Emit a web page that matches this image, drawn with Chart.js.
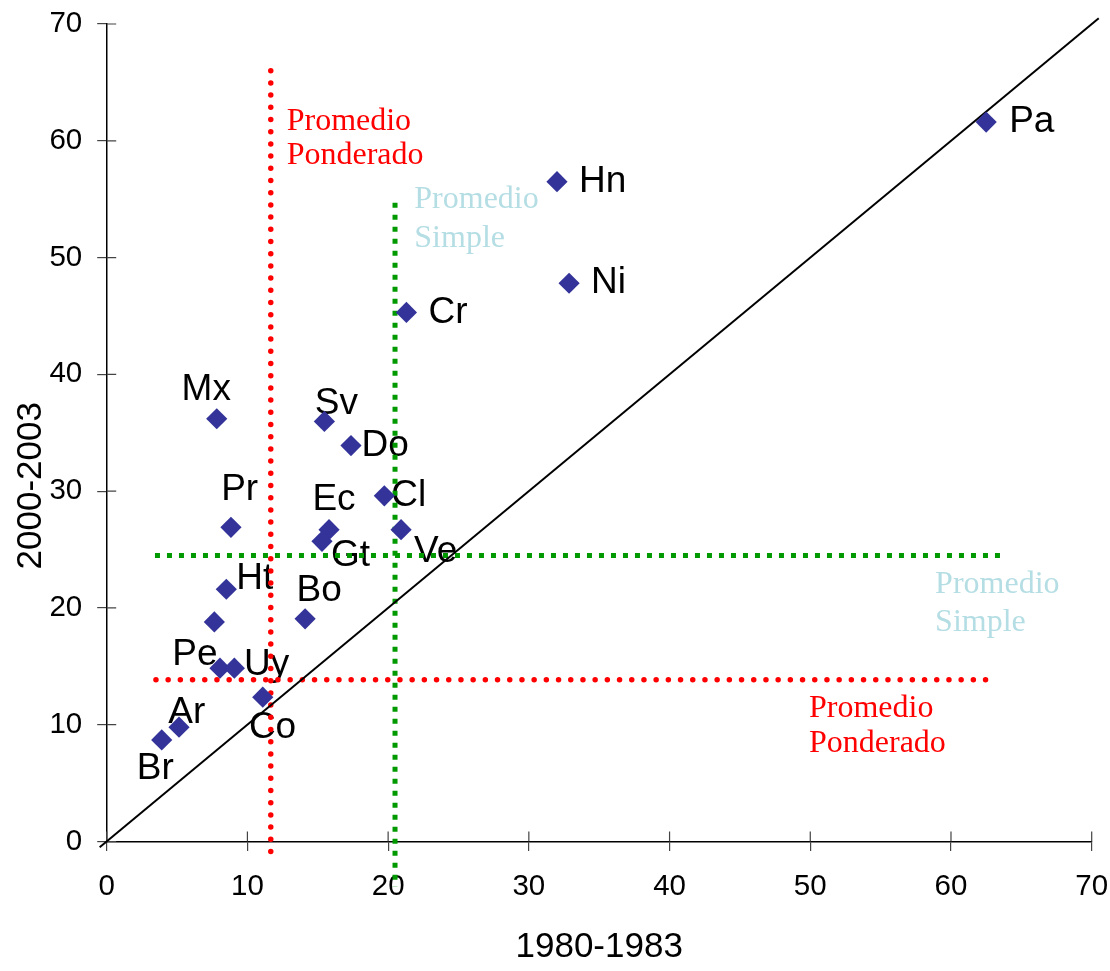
<!DOCTYPE html>
<html>
<head>
<meta charset="utf-8">
<script src="https://cdn.jsdelivr.net/npm/chart.js@4.4.0/dist/chart.umd.min.js"></script>
<style>
html, body { margin: 0; padding: 0; background: #fff; }
#wrap { width: 1110px; height: 971px; position: relative; }
</style>
</head>
<body>
<div id="wrap"><canvas id="chart"></canvas></div>
<script>
// países y valores (1980-1983 vs 2000-2003)
const countries = ['Pa', 'Hn', 'Ni', 'Cr', 'Mx', 'Sv', 'Do', 'Cl', 'Pr', 'Ec', 'Gt', 'Ve', 'Ht', '', 'Bo', 'Pe', 'Uy', 'Co', 'Ar', 'Br'];
const x1980 = [62.5, 32.0, 32.86, 21.3, 7.82, 15.47, 17.36, 19.73, 8.83, 15.8, 15.3, 20.92, 8.5, 7.65, 14.1, 8.05, 9.07, 11.09, 5.14, 3.91];
const y2000 = [61.6, 56.5, 47.8, 45.3, 36.2, 35.97, 33.9, 29.6, 26.9, 26.7, 25.7, 26.7, 21.6, 18.8, 19.07, 14.84, 14.84, 12.36, 9.79, 8.70];

// líneas de referencia
const diagX = [-0.5, 70.5];
const diagY = [-0.5, 70.5];
const ponderadoVX = [11.66, 11.66];
const ponderadoVY = [66.0, -0.9];
const ponderadoHX = [3.5, 62.6];
const ponderadoHY = [13.84, 13.84];
const simpleVX = [20.49, 20.49];
const simpleVY = [54.7, -3.9];
const simpleHX = [3.43, 63.5];
const simpleHY = [24.5, 24.5];

const axisTicks = [0, 10, 20, 30, 40, 50, 60, 70];

// desplazamiento de cada etiqueta respecto a su punto (px)
const labelOffsets = [
    [23, 0, 'left'], [22, 0, 'left'], [22, 0, 'left'], [22, 0, 'left'],
    [-10.5, -29, 'center'], [12, -18, 'center'], [10.5, 0, 'left'], [7, 0, 'left'],
    [8.7, -38, 'center'], [5, -29.5, 'center'], [9, 14.6, 'left'], [13, 21.7, 'left'],
    [10, -10.5, 'left'], [0, 0, 'left'], [14, -28, 'center'], [-25, -13.3, 'center'],
    [9.6, -3.8, 'left'], [9.8, 30.7, 'center'], [7.7, -14.6, 'center'], [-6.4, 29.3, 'center']
];

const notes = [
    { lines: ['Promedio', 'Ponderado'], color: '#FF0000', x: 12.79, y: 60.9, gap: 34 },
    { lines: ['Promedio', 'Simple'], color: '#B4DEE4', x: 21.86, y: 54.25, gap: 39 },
    { lines: ['Promedio', 'Simple'], color: '#B4DEE4', x: 58.87, y: 21.3, gap: 38.5 },
    { lines: ['Promedio', 'Ponderado'], color: '#FF0000', x: 49.91, y: 10.65, gap: 34.7 }
];

const sans = '"Liberation Sans", Arial, sans-serif';
const serif = '"Liberation Serif", "Times New Roman", serif';

function pairs(xs, ys)
{
    return xs.map((x, i) => ({ x: x, y: ys[i] }));
}

function refLine(xs, ys, color, width, dash, cap)
{
    return {
        data: pairs(xs, ys),
        showLine: true,
        borderColor: color,
        borderWidth: width,
        borderDash: dash,
        borderCapStyle: cap,
        pointRadius: 0,
        clip: false
    };
}

const underlayPlugin = {
    id: 'underlay',
    beforeDatasetsDraw(chart)
    {
        const ctx = chart.ctx;
        const xs = chart.scales.x;
        const ys = chart.scales.y;
        const area = chart.chartArea;
        ctx.save();

        // marcas de escala hacia dentro
        ctx.strokeStyle = '#444';
        ctx.lineWidth = 1.2;
        ctx.beginPath();
        axisTicks.forEach(v =>
        {
            const px = xs.getPixelForValue(v);
            ctx.moveTo(px, area.bottom);
            ctx.lineTo(px, area.bottom - 10);
            const py = ys.getPixelForValue(v);
            ctx.moveTo(area.left, py);
            ctx.lineTo(area.left + 9.5, py);
        });
        ctx.stroke();

        // etiquetas de países
        const meta = chart.getDatasetMeta(0);
        ctx.font = '37px ' + sans;
        ctx.fillStyle = '#000';
        ctx.textBaseline = 'middle';
        meta.data.forEach((pt, i) =>
        {
            const off = labelOffsets[i];
            ctx.textAlign = off[2];
            ctx.fillText(countries[i], pt.x + off[0], pt.y + off[1]);
        });

        // textos de promedios
        ctx.font = '32px ' + serif;
        ctx.textAlign = 'left';
        ctx.textBaseline = 'alphabetic';
        notes.forEach(n =>
        {
            ctx.fillStyle = n.color;
            const px = xs.getPixelForValue(n.x);
            const py = ys.getPixelForValue(n.y);
            n.lines.forEach((line, k) => ctx.fillText(line, px, py + k * n.gap));
        });

        // título eje Y
        ctx.font = '35px ' + sans;
        ctx.fillStyle = '#000';
        ctx.textAlign = 'center';
        ctx.textBaseline = 'middle';
        ctx.translate(31, ys.getPixelForValue(30.46));
        ctx.rotate(-Math.PI / 2);
        ctx.fillText('2000-2003', 0, 0);
        ctx.restore();
    }
};

document.addEventListener('DOMContentLoaded', () =>
{
    Chart.defaults.font.family = sans;
    Chart.defaults.color = '#000';

    const ctx = document.getElementById('chart').getContext('2d');
    new Chart(ctx, {
        type: 'scatter',
        data: {
            datasets: [
                {
                    data: pairs(x1980, y2000),
                    pointStyle: 'rectRot',
                    pointRadius: 10.6,
                    pointBackgroundColor: '#333399',
                    pointBorderWidth: 0,
                    showLine: false
                },
                refLine(diagX, diagY, '#000', 2, [], 'butt'),
                refLine(ponderadoVX, ponderadoVY, '#FF0000', 5.5, [0, 12.2], 'round'),
                refLine(ponderadoHX, ponderadoHY, '#FF0000', 5.5, [0, 12.2], 'round'),
                refLine(simpleVX, simpleVY, '#009900', 5, [5, 7], 'butt'),
                refLine(simpleHX, simpleHY, '#009900', 5, [5, 7], 'butt')
            ]
        },
        options: {
            animation: false,
            responsive: true,
            maintainAspectRatio: false,
            layout: { padding: { top: 24, right: 18.3, left: 0, bottom: 0 } },
            plugins: {
                legend: { display: false },
                tooltip: { enabled: false }
            },
            scales: {
                x: {
                    type: 'linear',
                    min: 0,
                    max: 70,
                    ticks: { stepSize: 10, font: { size: 29.5 }, color: '#000', padding: 18.5 },
                    grid: { drawOnChartArea: false, drawTicks: true, tickLength: 9.5, color: '#444', lineWidth: 1.2 },
                    border: { display: true, color: '#000', width: 1.5 },
                    title: { display: true, text: '1980-1983', font: { size: 35 }, color: '#000', padding: { top: 0, bottom: 2.8 } },
                    afterFit: s =>
                    {
                        s.height = 129.5;
                        s.paddingLeft = 0;
                        s.paddingRight = 0;
                    }
                },
                y: {
                    type: 'linear',
                    min: 0,
                    max: 70,
                    ticks: { stepSize: 10, font: { size: 29.5 }, color: '#000', padding: 15 },
                    grid: { drawOnChartArea: false, drawTicks: true, tickLength: 9.5, color: '#444', lineWidth: 1.2 },
                    border: { display: true, color: '#000', width: 1.5 },
                    afterFit: s =>
                    {
                        s.width = 106.7;
                        s.paddingTop = 0;
                        s.paddingBottom = 0;
                    }
                }
            }
        },
        plugins: [underlayPlugin]
    });
});
</script>
</body>
</html>
